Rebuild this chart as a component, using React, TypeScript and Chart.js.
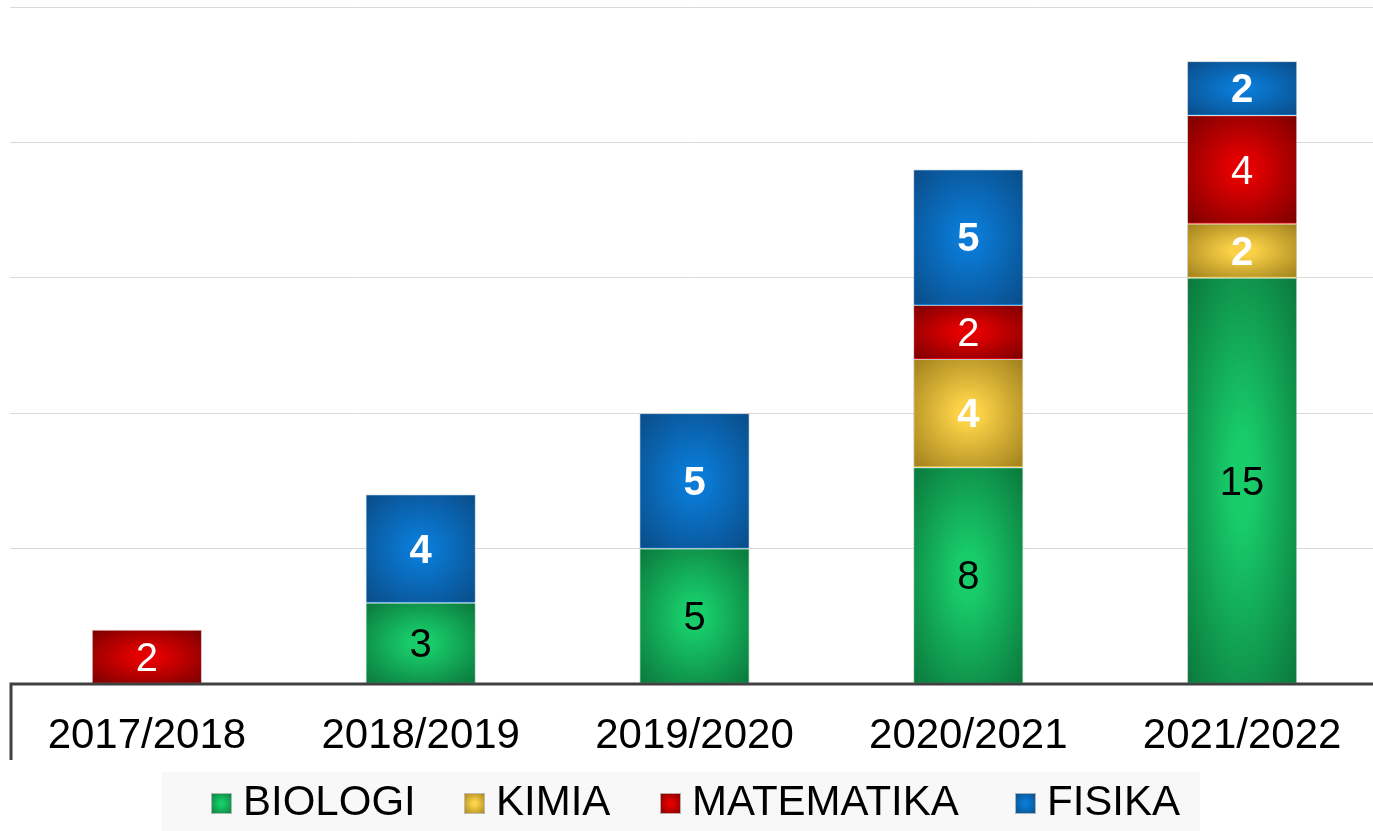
import React, { useEffect, useRef } from "react";
import { Chart, registerables } from "chart.js";
Chart.register(...registerables);

const categories = ["2017/2018", "2018/2019", "2019/2020", "2020/2021", "2021/2022"];
const biologi = [null, 3, 5, 8, 15];
const kimia = [null, null, null, 4, 2];
const matematika = [2, null, null, 2, 4];
const fisika = [null, 4, 5, 5, 2];
const seriesNames = ["BIOLOGI", "KIMIA", "MATEMATIKA", "FISIKA"];
const yMax = 25;
const yStep = 5;

const FONT = '"Liberation Sans", Arial, sans-serif';

const styles = [
  { inner: "#18cc6a", outer: "#0b783c", label: "#000000", weight: "normal" },
  { inner: "#fbd247", outer: "#a0801c", label: "#ffffff", weight: "bold" },
  { inner: "#e40000", outer: "#7c0000", label: "#ffffff", weight: "normal" },
  { inner: "#0a7ad4", outer: "#0a4c88", label: "#ffffff", weight: "bold" },
];
const legendBoxX = [211, 464, 660, 1015];

function ellipseGradientRect(c: CanvasRenderingContext2D, l: number, t: number, r: number, b: number, inner: string, outer: string) {
  const cx = (l + r) / 2;
  const cy = (t + b) / 2;
  const hw = (r - l) / 2;
  const hh = (b - t) / 2;
  c.save();
  c.translate(cx, cy);
  c.scale(hw, hh);
  const g = c.createRadialGradient(0, 0, 0, 0, 0, 1.42);
  g.addColorStop(0, inner);
  g.addColorStop(0.15, inner);
  g.addColorStop(1, outer);
  c.fillStyle = g;
  c.fillRect(-1, -1, 2, 2);
  c.restore();
}

const barFillPlugin = {
  id: "barFill",
  afterDatasetsDraw(chart: any) {
    const c = chart.ctx;
    c.save();
    chart.data.datasets.forEach((ds: any, di: number) => {
      const meta = chart.getDatasetMeta(di);
      const st = styles[di];
      meta.data.forEach((el: any, i: number) => {
        const v = ds.data[i];
        if (v === null || v === undefined) return;
        const l = el.x - el.width / 2 + 1;
        const r = el.x + el.width / 2 - 1;
        const t = Math.min(el.y, el.base) + 1;
        const b = Math.max(el.y, el.base) - 1;
        ellipseGradientRect(c, l, t, r, b, st.inner, st.outer);
      });
    });
    c.textAlign = "center";
    c.textBaseline = "middle";
    chart.data.datasets.forEach((ds: any, di: number) => {
      const meta = chart.getDatasetMeta(di);
      const st = styles[di];
      meta.data.forEach((el: any, i: number) => {
        const v = ds.data[i];
        if (v === null || v === undefined) return;
        c.fillStyle = st.label;
        c.font = `${st.weight} 40px ${FONT}`;
        c.fillText(String(v), el.x, (el.y + el.base) / 2 + 3);
      });
    });
    c.restore();
  },
};

const decoPlugin = {
  id: "deco",
  beforeDraw(chart: any) {
    const c = chart.ctx;
    c.save();
    c.fillStyle = "#ffffff";
    c.fillRect(0, 0, chart.width, chart.height);
    c.restore();
  },
  afterDraw(chart: any) {
    const c = chart.ctx;
    const area = chart.chartArea;
    c.save();
    c.strokeStyle = "#404040";
    c.lineWidth = 3;
    c.beginPath();
    c.moveTo(area.left + 1, 760);
    c.lineTo(area.left + 1, area.bottom);
    c.lineTo(area.right, area.bottom);
    c.stroke();

    c.fillStyle = "#f8f8f8";
    c.fillRect(162, 772, 1038, 59);
    c.font = `42px ${FONT}`;
    c.textBaseline = "middle";
    c.textAlign = "left";
    const yc = 803;
    seriesNames.forEach((name, si) => {
      const st = styles[si];
      const x = legendBoxX[si];
      ellipseGradientRect(c, x, yc - 10, x + 21, yc + 11, st.inner, st.outer);
      c.strokeStyle = "rgba(190,190,190,0.9)";
      c.lineWidth = 1;
      c.strokeRect(x + 0.5, yc - 9.5, 20, 20);
      c.fillStyle = "#000000";
      c.fillText(name, x + 32, yc);
    });
    c.restore();
  },
};

export default function App() {
  const ref = useRef<HTMLCanvasElement | null>(null);
  useEffect(() => {
    if (!ref.current) return;
    const series = [biologi, kimia, matematika, fisika];
    const chart = new Chart(ref.current, {
      type: "bar",
      data: {
        labels: categories,
        datasets: series.map((d, si) => ({
          label: seriesNames[si],
          data: d as any,
          backgroundColor: styles[si].inner,
          borderColor: "#c4c4c4",
          borderWidth: 1,
          barPercentage: 0.402,
          categoryPercentage: 1,
        })),
      },
      options: {
        responsive: false,
        animation: false,
        maintainAspectRatio: false,
        layout: { padding: { left: 10, top: 7, right: 0, bottom: 0 } },
        plugins: { legend: { display: false }, tooltip: { enabled: false } },
        scales: {
          x: {
            stacked: true,
            grid: { display: false, drawTicks: false },
            border: { display: false },
            ticks: {
              color: "#000000",
              font: { family: FONT, size: 42 },
              padding: 27,
              maxRotation: 0,
              autoSkip: false,
            },
            afterFit: (s: any) => {
              s.height = 147;
            },
          },
          y: {
            stacked: true,
            min: 0,
            max: yMax,
            ticks: { display: false, stepSize: yStep },
            grid: { color: "#d9d9d9", lineWidth: 1, drawTicks: false },
            border: { display: false },
            afterFit: (s: any) => {
              s.width = 0;
            },
          },
        },
      },
      plugins: [decoPlugin, barFillPlugin],
    });
    return () => chart.destroy();
  }, []);
  return (
    <div style={{ position: "fixed", left: 0, top: 0, width: 1373, height: 831, overflow: "hidden" }}>
      <canvas ref={ref} width={1379} height={831} style={{ width: 1379, height: 831, display: "block" }} />
    </div>
  );
}
